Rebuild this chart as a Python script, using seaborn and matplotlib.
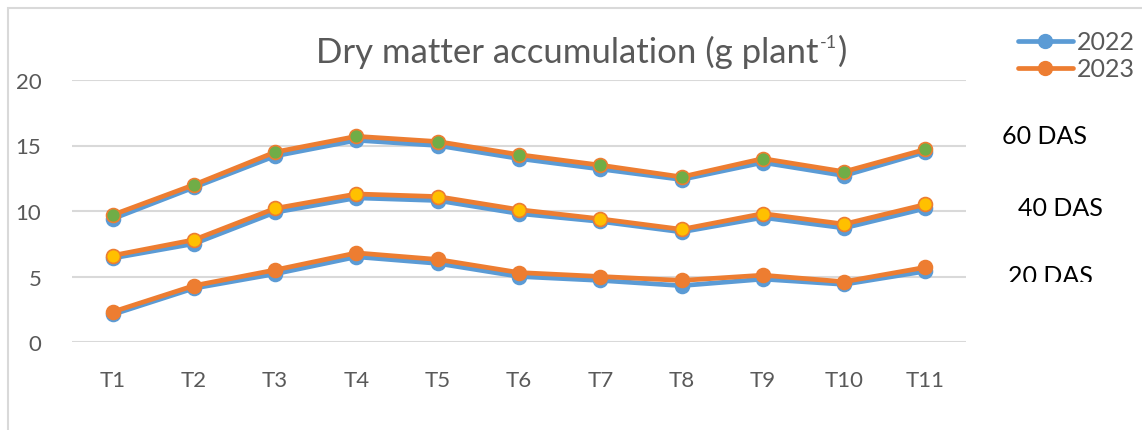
import matplotlib
matplotlib.use("Agg")
import matplotlib.pyplot as plt
import seaborn as sns
import pandas as pd
from matplotlib.patches import Rectangle
from matplotlib.lines import Line2D

treatments = ["T1", "T2", "T3", "T4", "T5", "T6", "T7", "T8", "T9", "T10", "T11"]

das20_2022 = [2.1, 4.1, 5.2, 6.5, 6.0, 5.0, 4.7, 4.3, 4.8, 4.4, 5.4]
das20_2023 = [2.3, 4.3, 5.5, 6.8, 6.3, 5.3, 5.0, 4.7, 5.1, 4.6, 5.7]
das40_2022 = [6.4, 7.5, 9.9, 11.0, 10.8, 9.8, 9.2, 8.4, 9.5, 8.7, 10.2]
das40_2023 = [6.6, 7.8, 10.2, 11.3, 11.1, 10.1, 9.4, 8.6, 9.8, 9.0, 10.5]
das60_2022 = [9.4, 11.8, 14.2, 15.4, 15.0, 14.0, 13.2, 12.4, 13.7, 12.7, 14.5]
das60_2023 = [9.7, 12.0, 14.5, 15.7, 15.3, 14.3, 13.5, 12.6, 14.0, 13.0, 14.7]

stages = ["20 DAS", "40 DAS", "60 DAS"]
years = ["2022", "2023"]

sns.set_theme(style="white")
plt.rcParams["font.family"] = ["Lato", "DejaVu Sans"]

BLUE = "#5B9BD5"
ORANGE = "#ED7D31"
GRAY = "#595959"
fills_2023 = {"20 DAS": ORANGE, "40 DAS": "#FFC000", "60 DAS": "#70AD47"}

rows = []
data = {
    ("20 DAS", "2022"): das20_2022, ("20 DAS", "2023"): das20_2023,
    ("40 DAS", "2022"): das40_2022, ("40 DAS", "2023"): das40_2023,
    ("60 DAS", "2022"): das60_2022, ("60 DAS", "2023"): das60_2023,
}
for (st, yr), vals in data.items():
    for t, v in zip(treatments, vals):
        rows.append({"stage": st, "year": yr, "treatment": t, "value": v})
df = pd.DataFrame(rows)

W, H = 1142, 431
fig = plt.figure(figsize=(W / 100, H / 100), dpi=100)
ax = fig.add_axes([72 / W, 1 - 343 / H, (966 - 72) / W, (343 - 81) / H])

for yr in years:
    for st in stages:
        sub = df[(df.stage == st) & (df.year == yr)]
        col = BLUE if yr == "2022" else ORANGE
        mfc = BLUE if yr == "2022" else fills_2023[st]
        sns.lineplot(data=sub, x="treatment", y="value", ax=ax, color=col,
                     linewidth=3.4, marker="o", markersize=10,
                     markerfacecolor=mfc, markeredgecolor=col, markeredgewidth=1.2,
                     sort=False, legend=False, zorder=3 if yr == "2022" else 4)

ax.set_xlim(-0.5, 10.5)
ax.set_ylim(0, 20)
ax.set_yticks([0, 5, 10, 15, 20])
ax.grid(axis="y", color="#D9D9D9", linewidth=1.5)
ax.grid(axis="x", visible=False)
for s in ax.spines.values():
    s.set_visible(False)
ax.set_xlabel("")
ax.set_ylabel("")
ax.tick_params(axis="y", length=0, pad=22, labelsize=16, labelcolor=GRAY)
ax.tick_params(axis="x", length=0, pad=20, labelsize=16, labelcolor=GRAY)
ax.set_axisbelow(True)

# Title with small superscript, laid out piece by piece
renderer = fig.canvas.get_renderer()
x0 = 316 / W
ty = 1 - 52 / H
t_main = fig.text(x0, ty, "Dry matter accumulation (g plant", ha="left", va="center",
                  fontsize=25, color=GRAY)
bb = t_main.get_window_extent(renderer)
x1 = bb.x1 / W + 0.001
t_sup = fig.text(x1, ty + 0.022, "-1", ha="left", va="center", fontsize=13, color=GRAY)
bb2 = t_sup.get_window_extent(renderer)
fig.text(bb2.x1 / W + 0.001, ty, ")", ha="left", va="center", fontsize=25, color=GRAY)

# DAS labels
fig.text(1045 / W, 1 - 137 / H, "60 DAS", ha="center", va="center", fontsize=18, color="black")
fig.text(1060 / W, 1 - 209 / H, "40 DAS", ha="center", va="center", fontsize=18, color="black")
t20 = fig.text(1050 / W, 1 - 277 / H, "20 DAS", ha="center", va="center", fontsize=18, color="black")
clip = Rectangle((0, 1 - 283 / H), 1, 283 / H, transform=fig.transFigure, visible=False)
fig.add_artist(clip)
t20.set_clip_path(clip)

handles = [
    Line2D([], [], color=BLUE, lw=3.4, marker="o", markersize=10, markerfacecolor=BLUE, markeredgecolor=BLUE),
    Line2D([], [], color=ORANGE, lw=3.4, marker="o", markersize=10, markerfacecolor=ORANGE, markeredgecolor=ORANGE),
]
leg = fig.legend(handles, years, loc="upper right", bbox_to_anchor=(1.0, 1 - 24 / H), frameon=False,
                 fontsize=18, labelcolor=GRAY, handlelength=2.2, handletextpad=0.15,
                 labelspacing=0.15, borderaxespad=0.2, borderpad=0.1)

fig.add_artist(Rectangle((8 / W, -0.05), 1.1, 1 - 9 / H + 0.05, transform=fig.transFigure,
                         fill=False, edgecolor="#D9D9D9", linewidth=1.5))

fig.savefig("out.png", dpi=100)
